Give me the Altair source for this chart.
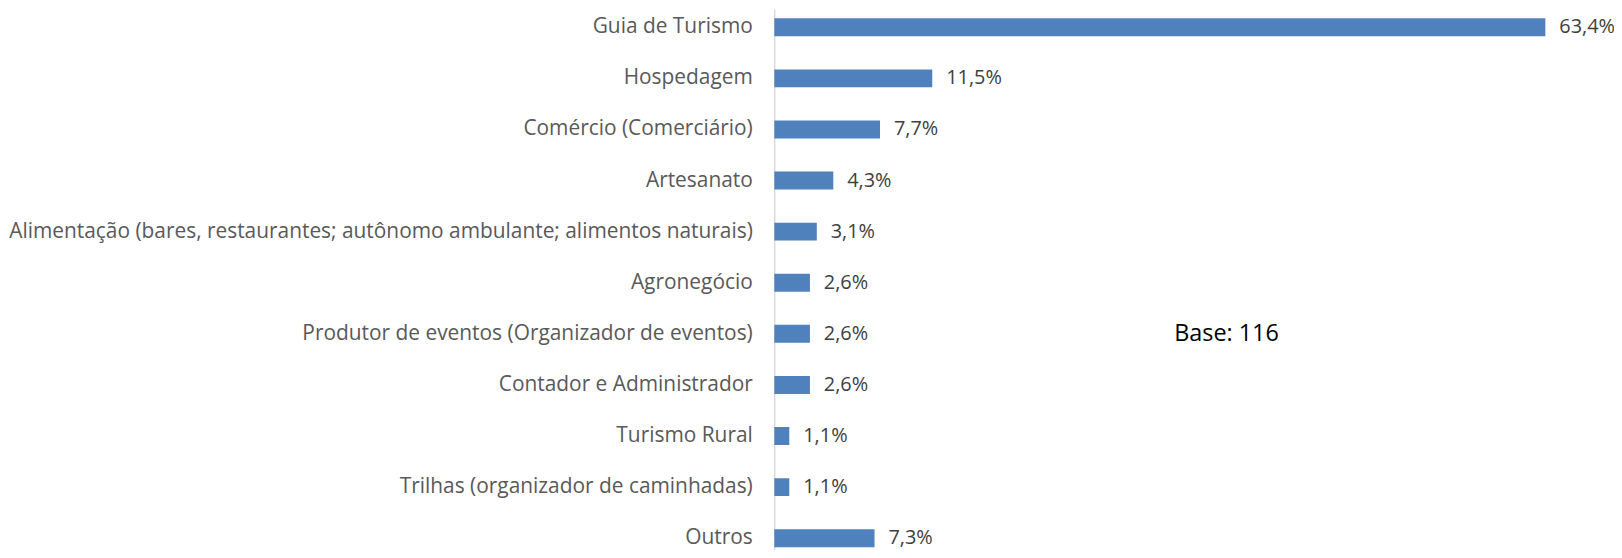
import altair as alt
import pandas as pd

categories = [
    "Guia de Turismo",
    "Hospedagem\u00a0",
    "Comércio (Comerciário)",
    "Artesanato",
    "Alimentação (bares, restaurantes; autônomo ambulante; alimentos naturais)",
    "Agronegócio\u00a0",
    "Produtor de eventos (Organizador de eventos)",
    "Contador e Administrador\u00a0",
    "Turismo Rural",
    "Trilhas (organizador de caminhadas)",
    "Outros",
]
values = [63.4, 11.5, 7.7, 4.3, 3.1, 2.6, 2.6, 2.6, 1.1, 1.1, 7.3]
value_labels = ["63,4%", "11,5%", "7,7%", "4,3%", "3,1%", "2,6%", "2,6%", "2,6%", "1,1%", "1,1%", "7,3%"]
base_note = ["Base: 116"]
axis_max = 56.1

FONT = "Open Sans"
FS = 21

df = pd.DataFrame({"cat": categories, "v": values, "lab": value_labels})

yenc = alt.Y(
    "cat:N",
    sort=categories,
    scale=alt.Scale(range=[0, 549.5], paddingInner=0.6, paddingOuter=0.1505),
    axis=alt.Axis(
        title=None,
        ticks=False,
        domainColor="#d9d9d9",
        domainWidth=1.5,
        labelFont=FONT,
        labelFontSize=FS,
        labelColor="#595959",
        labelPadding=22,
        labelLimit=0,
    ),
)
xscale = alt.Scale(domain=[0, axis_max], nice=False, zero=True)

bars = alt.Chart(df).mark_bar(color="#4f81bd", size=18, clip=True).encode(
    y=yenc,
    x=alt.X("v:Q", scale=xscale, axis=None),
)

texts = alt.Chart(df).transform_calculate(
    xp=f"min(datum.v, {axis_max})"
).mark_text(
    align="left", baseline="middle", dx=14, font=FONT, fontSize=20, color="#404040"
).encode(
    y=alt.Y("cat:N", sort=categories),
    x=alt.X("xp:Q", scale=xscale, axis=None),
    text="lab:N",
)

note = alt.Chart(pd.DataFrame({"t": base_note})).mark_text(
    align="left", baseline="middle", font=FONT, fontSize=23.5, color="#000000"
).encode(
    x=alt.value(402),
    y=alt.value(326),
    text="t:N",
)

chart = alt.layer(bars, texts, note).properties(
    width=775,
    height=542,
    autosize=alt.AutoSizeParams(type="none"),
    padding={"left": 770, "right": 69, "top": 0, "bottom": 0},
).configure_view(stroke=None).configure_axis(grid=False)

chart.save("out.html", embed_options={"renderer": "svg", "actions": False})
